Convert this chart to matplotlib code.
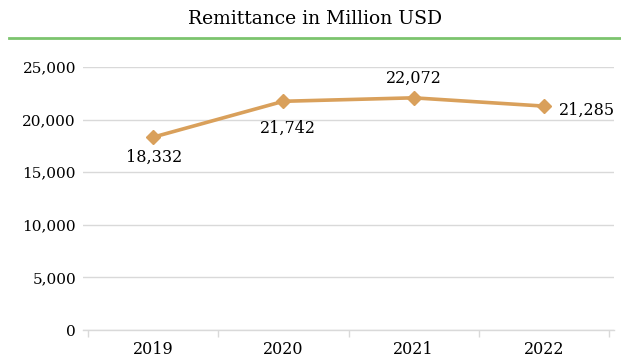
import matplotlib
matplotlib.use("Agg")
from matplotlib import pyplot as plt
from matplotlib.ticker import FuncFormatter
from matplotlib.lines import Line2D

years = ["2019", "2020", "2021", "2022"]
remittance = [18332, 21742, 22072, 21285]
# label offsets in points (dx, dy) and alignment
label_offsets = [(1, -8.5), (3, -13), (0, 8), (11, -3)]
label_align = [("center", "top"), ("center", "top"), ("center", "bottom"), ("left", "center")]

plt.rcParams['font.family'] = ['DejaVu Serif']

fig = plt.figure(figsize=(6.21, 3.58), dpi=100)
ax = fig.add_axes([83 / 621, 0.0782, 531 / 621, 0.7346])

x = list(range(len(years)))
ax.plot(x, remittance, color='#D9A05B', linewidth=2.6, marker='D', markersize=7, zorder=3)

for xi, val, (dx, dy), (ha, va) in zip(x, remittance, label_offsets, label_align):
    ax.annotate(f"{val:,}", (xi, val), xytext=(dx, dy), textcoords='offset points',
                ha=ha, va=va, fontsize=11.5)

pad = 5 / 130.2
ax.set_xlim(-0.5 - pad, len(years) - 0.5 + pad)
ax.set_ylim(0, 25000)
ax.set_yticks(range(0, 25001, 5000))
ax.yaxis.set_major_formatter(FuncFormatter(lambda v, p: f"{int(v):,}"))
ax.set_xticks(x)
ax.set_xticklabels(years)
ax.set_xticks([i - 0.5 for i in range(len(years) + 1)], minor=True)

ax.grid(axis='y', color='#d9d9d9', linewidth=1)
ax.set_axisbelow(True)
for s in ['top', 'right', 'left']:
    ax.spines[s].set_visible(False)
ax.spines['bottom'].set_color('#d9d9d9')
ax.spines['bottom'].set_linewidth(1)
ax.tick_params(axis='y', length=0, labelsize=11, pad=5)
ax.tick_params(axis='x', which='major', length=0, labelsize=11.5, pad=8)
ax.tick_params(axis='x', which='minor', length=5, color='#d9d9d9', width=1)

fig.text(0.507, 0.948, "Remittance in Million USD", ha='center', va='center', fontsize=13.5)
fig.add_artist(Line2D([9 / 621, 1], [0.894, 0.894], transform=fig.transFigure,
                      color='#7CC46E', linewidth=2))

fig.savefig("out.png", dpi=100)
